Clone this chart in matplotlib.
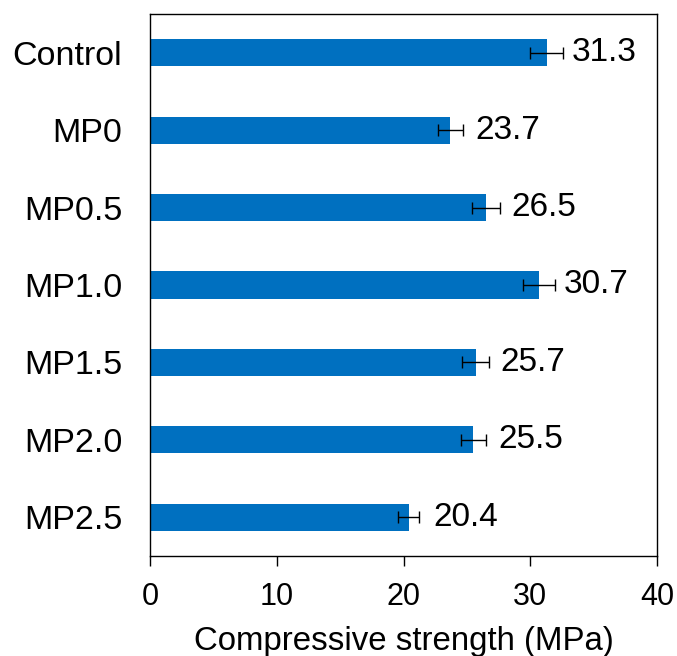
import matplotlib
matplotlib.use("Agg")
import matplotlib.pyplot as plt

plt.rcParams['font.family'] = ['Liberation Sans', 'DejaVu Sans']

# Compressive strength of each mix
categories = ["Control", "MP0", "MP0.5", "MP1.0", "MP1.5", "MP2.0", "MP2.5"]
strength = [31.3, 23.7, 26.5, 30.7, 25.7, 25.5, 20.4]
std_dev = [1.3, 1.0, 1.1, 1.25, 1.05, 1.0, 0.85]
x_ticks = [0, 10, 20, 30, 40]

fig = plt.figure(figsize=(6.77, 6.56), dpi=100)
ax = fig.add_axes([0.2216, 0.1524, 0.7489, 0.8263])

ypos = list(range(len(categories)))
ax.barh(ypos, strength, height=0.35, color="#0070C0",
        xerr=std_dev, error_kw=dict(ecolor="black", elinewidth=1.0,
                                    capsize=4.5, capthick=1.0))

for y, v in zip(ypos, strength):
    ax.annotate(f"{v:.1f}", xy=(v, y), xytext=(18, 0),
                textcoords="offset points", ha="left", va="center",
                fontsize=24, color="black")

ax.set_yticks(ypos)
ax.set_yticklabels(categories, fontsize=24.5)
ax.set_ylim(len(categories) - 0.5, -0.5)
ax.set_xlim(0, 40)
ax.set_xticks(x_ticks)
ax.set_xticklabels([str(t) for t in x_ticks], fontsize=22)
ax.set_xlabel("Compressive strength (MPa)", fontsize=23.8, labelpad=10)

ax.tick_params(axis="x", direction="out", length=7, width=1, pad=12)
ax.tick_params(axis="y", length=0, pad=20)
for s in ax.spines.values():
    s.set_linewidth(1.0)
    s.set_color("black")

fig.savefig("out.png", dpi=100)
